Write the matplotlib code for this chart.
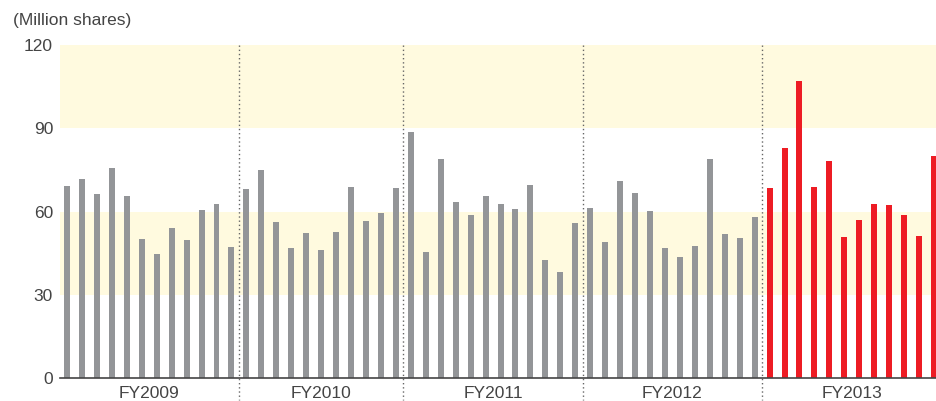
import matplotlib
matplotlib.use("Agg")
import matplotlib.pyplot as plt
import matplotlib.transforms as mtransforms

plt.rcParams['font.family'] = ['Liberation Sans', 'DejaVu Sans']

years = ["FY2009", "FY2010", "FY2011", "FY2012", "FY2013"]
fy2009 = [69.3, 71.8, 66.4, 75.8, 65.7, 50.2, 44.8, 54.2, 49.8, 60.7, 62.6, 47.3]
fy2010 = [68.2, 75.1, 56.3, 47.0, 52.4, 46.2, 52.7, 68.9, 56.7, 59.6, 68.6]
fy2011 = [88.8, 45.5, 79.0, 63.5, 58.9, 65.7, 62.8, 61.0, 69.7, 42.6, 38.3, 56.0]
fy2012 = [61.4, 49.1, 71.1, 66.8, 60.3, 47.0, 43.7, 47.7, 79.0, 52.0, 50.6, 58.1]
fy2013 = [68.6, 83.0, 107.1, 68.9, 78.3, 50.9, 57.1, 62.8, 62.5, 58.9, 51.3, 80.1]
series = [fy2009, fy2010, fy2011, fy2012, fy2013]
yticks = [0, 30, 60, 90, 120]

GRAY = "#939598"
RED = "#ED1C24"
BAND = "#FFFADF"
TEXT = "#444444"

fig = plt.figure(figsize=(9.37, 4.01), dpi=100)
ax = fig.add_axes([60/937, 1-378/401, 1-60/937, (378-45)/401])

ax.axhspan(30, 60, color=BAND, zorder=0, lw=0)
ax.axhspan(90, 120, color=BAND, zorder=0, lw=0)

trans = mtransforms.blended_transform_factory(ax.transData, ax.transAxes)
start = 0
for gi, vals in enumerate(series):
    xs = list(range(start, start + len(vals)))
    color = RED if gi == len(series) - 1 else GRAY
    ax.bar(xs, vals, width=0.4, color=color, zorder=2, lw=0)
    center = (xs[0] + xs[-1]) / 2
    ax.text(center, -0.046, years[gi], transform=trans, ha='center', va='center',
            fontsize=12.5, color=TEXT, clip_on=False)
    end = start + len(vals)
    if gi < len(series) - 1:
        ax.plot([end - 0.5, end - 0.5], [1.0, -0.065], transform=trans,
                color="#666666", lw=1.0, ls=(0, (1, 2)), clip_on=False, zorder=3)
    start = end

ax.set_xlim(-0.47, start - 1 + 0.2)
ax.set_ylim(0, 120)
ax.set_yticks(yticks)
ax.set_yticklabels([str(t) for t in yticks], fontsize=12.5, color=TEXT)
ax.tick_params(axis='y', length=0, pad=5)
ax.set_xticks([])
for s in ['top', 'right', 'left']:
    ax.spines[s].set_visible(False)
ax.spines['bottom'].set_color("#444444")
ax.spines['bottom'].set_linewidth(1.2)
ax.spines['bottom'].set_zorder(4)

fig.text(13/937, 1-20/401, "(Million shares)", fontsize=12.5, color=TEXT,
         ha='left', va='center')

fig.savefig("out.png", dpi=100)
